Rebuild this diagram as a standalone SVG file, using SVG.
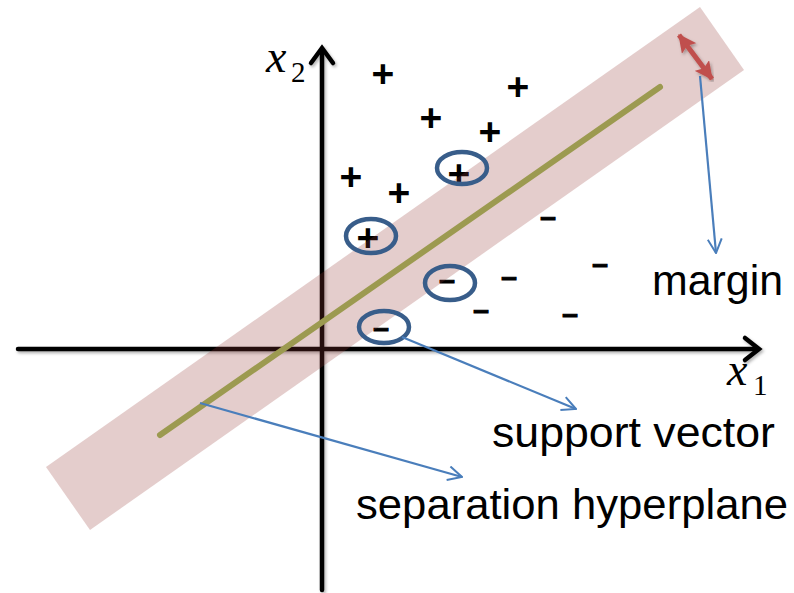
<svg xmlns="http://www.w3.org/2000/svg" width="794" height="593" viewBox="0 0 794 593">
<style>
.ax{stroke:#000;stroke-width:4.5;fill:none;stroke-linecap:round;stroke-linejoin:miter}
.sign{font-family:"Liberation Sans",Arial,sans-serif;font-weight:bold;fill:#000;text-anchor:middle}
.plus{font-size:39px}
.minus{font-size:28px;stroke:#000;stroke-width:1.2}
.sv{fill:none;stroke:#385d8a;stroke-width:4.5}
.conn{stroke:#4a7ebb;stroke-width:2.2;fill:none}
.lbl{font-family:"Liberation Sans",Arial,sans-serif;font-size:42px;fill:#000}
.math{font-family:"Liberation Serif","Times New Roman",serif;fill:#000}
</style>
<defs>
<filter id="sh" x="-5%" y="-5%" width="110%" height="110%">
<feDropShadow dx="1.5" dy="2" stdDeviation="1.5" flood-color="#000" flood-opacity="0.3"/>
</filter>
<marker id="open" viewBox="0 0 16 16" refX="15" refY="8" markerWidth="16" markerHeight="16" markerUnits="userSpaceOnUse" orient="auto">
<path d="M1,1 L15,8 L1,15" fill="none" stroke="#4a7ebb" stroke-width="2"/>
</marker>
<marker id="red" viewBox="0 0 16 16" refX="15" refY="8" markerWidth="18" markerHeight="18" markerUnits="userSpaceOnUse" orient="auto-start-reverse">
<path d="M0,0 L16,8 L0,16 L3,8 Z" fill="#c0504d"/>
</marker>
</defs>

<g id="axes" filter="url(#sh)">
<line class="ax" x1="18" y1="349" x2="757" y2="349"/>
<polyline class="ax" points="745,338 759,349 745,360"/>
<line class="ax" x1="322" y1="590" x2="322" y2="50"/>
<polyline class="ax" points="311,63 322,48 333,63"/>
</g>

<g id="axis-labels">
<text class="math" x="266" y="72" font-size="46" font-style="italic">x</text>
<text class="math" x="291" y="82" font-size="29">2</text>
<text class="math" x="727" y="385" font-size="46" font-style="italic">x</text>
<text class="math" x="753" y="395" font-size="29">1</text>
</g>

<g id="plus-points">
<text class="sign plus" x="383" y="87">+</text>
<text class="sign plus" x="518" y="100">+</text>
<text class="sign plus" x="431" y="131">+</text>
<text class="sign plus" x="490" y="145">+</text>
<text class="sign plus" x="351" y="190">+</text>
<text class="sign plus" x="399" y="206">+</text>
<text class="sign plus" x="459" y="187">+</text>
<text class="sign plus" x="368" y="251">+</text>
</g>

<g id="minus-points">
<text class="sign minus" x="548" y="226">–</text>
<text class="sign minus" x="600" y="273">–</text>
<text class="sign minus" x="447" y="289">–</text>
<text class="sign minus" x="509" y="286">–</text>
<text class="sign minus" x="481" y="319">–</text>
<text class="sign minus" x="570" y="323">–</text>
<text class="sign minus" x="381" y="337">–</text>
</g>

<g id="margin-band">
<polygon points="46,467 700,7 744,70 90,530" fill="#943634" fill-opacity="0.25"/>
</g>

<g id="hyperplane">
<line x1="160" y1="435" x2="660" y2="87" stroke="#9c9a50" stroke-width="6" stroke-linecap="round"/>
</g>

<g id="margin-arrow" filter="url(#sh)">
<line x1="679" y1="35" x2="712" y2="79" stroke="#c0504d" stroke-width="5" marker-start="url(#red)" marker-end="url(#red)"/>
</g>

<g id="support-vectors">
<ellipse class="sv" cx="462" cy="168" rx="25" ry="16"/>
<ellipse class="sv" cx="371" cy="236" rx="25" ry="17"/>
<ellipse class="sv" cx="450" cy="283" rx="25" ry="17"/>
<ellipse class="sv" cx="384" cy="327" rx="25" ry="16"/>
</g>

<g id="connectors">
<line class="conn" x1="700" y1="76" x2="716" y2="253" marker-end="url(#open)"/>
<line class="conn" x1="402" y1="337" x2="576" y2="409" marker-end="url(#open)"/>
<line class="conn" x1="200" y1="403" x2="462" y2="477" marker-end="url(#open)"/>
</g>

<g id="labels">
<text class="lbl" x="652" y="295" textLength="131" lengthAdjust="spacingAndGlyphs">margin</text>
<text class="lbl" x="492" y="447" textLength="283" lengthAdjust="spacingAndGlyphs">support vector</text>
<text class="lbl" x="356" y="519" textLength="432" lengthAdjust="spacingAndGlyphs">separation hyperplane</text>
</g>
</svg>
